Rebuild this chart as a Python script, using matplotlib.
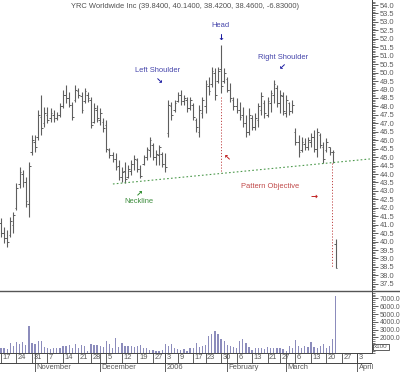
import numpy as np
import pandas as pd
import matplotlib
matplotlib.use("Agg")
import matplotlib.pyplot as plt
from matplotlib.ticker import MultipleLocator, FormatStrFormatter, FixedLocator, FuncFormatter

plt.rcParams["font.family"] = ["Liberation Sans", "DejaVu Sans"]

# trading calendar (holidays left out)
holidays = ["2005-11-24", "2005-12-26", "2006-01-02", "2006-01-16", "2006-02-20"]
days = pd.bdate_range("2005-10-17", "2006-04-07")
days = days[~days.isin(pd.to_datetime(holidays))]

# daily bars
high = [41.38, 40.88, 40.69, 41.47, 41.77, 43.45, 44.43, 44.24, 43.84, 44.73,
        46.31, 46.31, 47.79, 48.67, 47.98, 47.98, 47.89, 47.79, 47.69, 48.18,
        48.97, 49.27, 48.87, 48.28, 49.27, 49.07, 48.87, 49.07, 48.87, 48.57,
        48.18, 48.08, 47.89, 47.30, 47.20, 45.52, 45.32, 45.22, 44.83, 44.43,
        44.73, 44.53, 44.83, 45.12, 44.93, 44.53, 45.12, 45.62, 46.21, 45.82,
        45.42, 45.72, 45.32, 45.22, 48.38, 48.28, 48.38, 48.87, 48.97, 48.67,
        48.57, 48.57, 48.18, 47.30, 48.08, 48.57, 49.56, 49.76, 50.35, 50.25,
        50.35, 51.63, 50.25, 49.76, 49.37, 48.57, 48.48, 48.28, 47.98, 47.49,
        47.89, 47.49, 47.59, 48.18, 48.87, 48.40, 48.57, 48.97, 49.56, 49.27,
        48.97, 48.87, 48.67, 48.28, 48.38, 46.70, 46.31, 46.21, 46.11, 46.21,
        46.41, 46.60, 46.70, 46.41, 45.91, 46.11, 45.62, 45.42, 40.14]
low = [40.29, 39.90, 39.70, 40.29, 40.49, 41.87, 43.15, 43.25, 42.06, 41.47,
       45.12, 45.32, 46.01, 46.31, 46.80, 47.00, 47.10, 47.10, 47.20, 47.39,
       47.89, 48.18, 47.98, 47.20, 48.28, 48.48, 47.59, 48.18, 48.28, 46.70,
       47.00, 47.10, 46.90, 46.50, 45.32, 44.93, 44.73, 44.24, 43.64, 43.54,
       43.45, 43.74, 43.94, 44.24, 44.14, 43.74, 44.53, 44.83, 45.02, 44.83,
       44.53, 44.53, 44.43, 44.14, 46.21, 47.20, 47.69, 48.28, 48.08, 48.08,
       47.69, 47.79, 47.20, 46.50, 46.21, 47.30, 47.59, 48.67, 49.17, 48.38,
       49.37, 48.77, 49.37, 48.87, 48.28, 47.79, 47.59, 47.20, 46.80, 46.21,
       46.31, 46.60, 46.60, 46.80, 47.49, 47.30, 47.39, 47.69, 48.18, 47.98,
       47.59, 47.49, 47.39, 47.49, 47.59, 45.72, 45.02, 45.32, 45.42, 45.42,
       45.62, 45.32, 45.02, 45.52, 44.63, 45.32, 45.12, 44.63, 38.42]
opn = [41.1, 40.5, 40.2, 40.4, 41.0, 42.0, 43.4, 44.0, 43.5, 42.2,
       45.3, 45.9, 46.2, 47.4, 47.0, 47.5, 47.3, 47.5, 47.3, 47.5,
       48.0, 48.7, 48.5, 48.1, 48.4, 48.9, 48.6, 48.3, 48.7, 48.4,
       47.1, 47.8, 47.2, 47.1, 46.9, 45.4, 45.1, 44.9, 44.5, 43.8,
       44.2, 43.8, 44.2, 44.6, 44.8, 44.3, 44.6, 45.0, 45.4, 45.7,
       45.0, 45.1, 45.2, 44.6, 46.4, 48.0, 47.8, 48.3, 48.7, 48.3,
       48.4, 47.9, 48.1, 47.2, 46.5, 47.6, 48.0, 49.2, 49.3, 50.0,
       49.5, 50.2, 49.5, 49.6, 49.0, 48.4, 48.0, 47.8, 47.5, 47.0,
       46.5, 47.3, 46.8, 47.2, 47.8, 48.2, 47.5, 48.2, 48.7, 49.1,
       48.2, 48.6, 47.6, 48.2, 47.7, 46.5, 45.9, 45.4, 45.8, 45.6,
       45.9, 46.2, 45.5, 46.3, 45.6, 45.4, 45.6, 45.3, 39.84]
close = [40.5, 40.2, 40.0, 41.2, 41.6, 43.2, 44.1, 43.5, 42.4, 44.5,
         46.0, 45.6, 47.5, 46.7, 47.6, 47.2, 47.6, 47.3, 47.5, 48.0,
         48.7, 48.5, 48.1, 47.4, 49.0, 48.7, 47.8, 48.9, 48.5, 46.9,
         47.9, 47.3, 47.6, 46.7, 45.5, 45.1, 44.9, 44.4, 43.8, 44.1,
         43.7, 44.3, 44.6, 44.9, 44.3, 43.9, 45.0, 45.5, 46.0, 45.0,
         45.2, 45.6, 44.6, 44.4, 48.1, 47.5, 48.2, 48.7, 48.3, 48.5,
         47.9, 48.4, 47.4, 46.8, 47.8, 48.4, 49.3, 48.9, 50.1, 48.7,
         50.1, 49.2, 50.0, 49.0, 48.5, 48.0, 47.8, 47.4, 47.0, 46.5,
         47.5, 46.8, 47.3, 48.0, 48.6, 47.6, 48.3, 48.8, 49.3, 48.2,
         48.7, 47.7, 48.4, 47.7, 48.1, 45.9, 45.3, 45.9, 45.6, 46.0,
         46.2, 45.5, 46.5, 45.7, 44.9, 45.9, 45.3, 45.29, 38.46]
# volume in hundreds of shares
volume = [600, 700, 450, 1300, 850, 1400, 1150, 1400, 1000, 3500,
          1300, 1150, 1600, 1600, 800, 650, 550, 650, 650, 650,
          850, 850, 1000, 600, 1100, 700, 1000, 900, 200, 1100,
          1000, 1000, 900, 800, 1500, 1100, 600, 1900, 800, 1300,
          900, 850, 850, 800, 900, 1000, 700, 700, 400, 350,
          300, 300, 400, 1200, 900, 1100, 700, 550, 400, 500,
          300, 600, 700, 1300, 800, 900, 1000, 2200, 2500, 2800,
          2400, 1800, 1500, 1000, 900, 800, 600, 1500, 1800, 1300,
          800, 400, 600, 700, 700, 500, 800, 700, 700, 600,
          600, 500, 300, 900, 700, 1700, 900, 600, 900, 800,
          1400, 800, 700, 900, 1200, 700, 900, 1800, 7250]

month_names = ["November", "December", "2006", "February", "March", "April"]
month_starts = ["2005-11-01", "2005-12-01", "2006-01-03", "2006-02-01", "2006-03-01", "2006-04-03"]
vol_ticks = [1000, 2000, 3000, 4000, 5000, 6000, 7000]

# pattern lines (trading-day index, price)
neck_x = [36.1, 119.0]
neck_y = [43.41, 44.89]
head_idx = 71
target_idx = 106.8
target_low = 38.44

x = np.arange(len(high))
pos = pd.Series(np.arange(len(days)), index=days)
week_first = pos.groupby(days.to_period("W")).first()
week_days = [days[i].day for i in week_first.values]
month_pos = [pos[pd.Timestamp(d)] for d in month_starts]

def neck_at(i):
    return neck_y[0] + (i - neck_x[0]) * (neck_y[1] - neck_y[0]) / (neck_x[1] - neck_x[0])

W, H = 400, 372
fig = plt.figure(figsize=(4.0, 3.72), dpi=100)
xl = (-0.32, 119.68)
right = 372 / W

ax = fig.add_axes([0, 1 - 290 / H, right, 290 / H])
axv = fig.add_axes([0, 1 - 353 / H, right, 62 / H])
axd = fig.add_axes([0, 0, right, 19 / H])

grey = "#5e5e5e"
txtc = "#5a5a5a"
fs = 5.4
arrow_kw = dict(fontsize=6, fontweight="bold", family="DejaVu Sans", ha="center", va="center")

# price bars
ax.vlines(x, low, high, color=grey, lw=0.8)
ax.hlines(opn, x - 0.55, x, color=grey, lw=0.7)
ax.hlines(close, x, x + 0.55, color=grey, lw=0.7)

# neckline and projections
ax.plot(neck_x, neck_y, color="#4d9a4d", lw=0.8, ls=(0, (1.5, 2)))
ax.plot([head_idx, head_idx], [low[head_idx] - 0.2, neck_at(head_idx)],
        color="#c04848", lw=0.7, ls=(0, (1.2, 1.8)))
ax.plot([target_idx, target_idx], [neck_at(target_idx), target_low],
        color="#c04848", lw=0.7, ls=(0, (1.2, 1.8)))

blue = "#4444aa"
ax.text(70.8, 52.76, "Head", color=blue, fontsize=fs, ha="center", va="center")
ax.text(70.8, 52.05, "\u2193", color="#1a1aa0", **arrow_kw)
ax.text(50.6, 50.15, "Left Shoulder", color=blue, fontsize=fs, ha="center", va="center")
ax.text(51.1, 49.5, "\u2198", color="#1a1aa0", **arrow_kw)
ax.text(91.0, 50.9, "Right Shoulder", color=blue, fontsize=fs, ha="center", va="center")
ax.text(90.9, 50.35, "\u2199", color="#1a1aa0", **arrow_kw)
ax.text(44.6, 42.36, "Neckline", color="#3c8c3c", fontsize=fs, ha="center", va="center")
ax.text(44.8, 42.9, "\u2197", color="#2a8a2a", **arrow_kw)
ax.text(86.8, 43.25, "Pattern Objective", color="#c04848", fontsize=fs, ha="center", va="center")
ax.text(101.0, 42.7, "\u2192", color="#c02020", **arrow_kw)
ax.text(73.0, 45.02, "\u2196", color="#c02020", **arrow_kw)

ax.set_xlim(xl)
ax.set_ylim(37.136, 54.296)
ax.yaxis.set_major_locator(MultipleLocator(0.5))
ax.yaxis.set_minor_locator(MultipleLocator(0.1))
ax.yaxis.set_major_formatter(FormatStrFormatter("%.1f"))

# volume
axv.bar(x, volume, width=0.4, color="#8c8cbc", linewidth=0)
axv.set_xlim(xl)
axv.set_ylim(0, 7950)
axv.yaxis.set_major_locator(FixedLocator(vol_ticks))
axv.yaxis.set_minor_locator(MultipleLocator(250))
# the 1000 label sits under the x100 box
axv.yaxis.set_major_formatter(FuncFormatter(lambda v, p: "" if v < 1500 else "%.1f" % v))

for a in (ax, axv):
    a.set_xticks([])
    a.yaxis.tick_right()
    for s in ("left", "top", "bottom"):
        a.spines[s].set_visible(False)
    a.spines["right"].set_color("#444444")
    a.spines["right"].set_linewidth(0.7)
    a.tick_params(axis="y", which="major", length=4, width=0.6, color="#444444",
                  labelsize=fs, labelcolor=txtc, pad=1.5)
    a.tick_params(axis="y", which="minor", length=2, width=0.5, color="#444444")
    a.patch.set_alpha(0)
axv.tick_params(axis="y", which="major", labelsize=4.9)

# date strip
axd.set_xlim(xl)
axd.set_ylim(0, 1)
axd.axis("off")
lc = "#444444"
axd.axhline(1, color=lc, lw=0.7)
axd.axhline(0.5, color=lc, lw=0.7)
axd.vlines(week_first.values, 0.5, 1, color=lc, lw=0.6)
axd.vlines(month_pos, 0, 1, color=lc, lw=0.6)
for p, d in zip(week_first.values, week_days):
    axd.text(p + 0.5, 0.74, str(d), fontsize=fs, color=txtc, ha="left", va="center")
for p, m in zip(month_pos, month_names):
    axd.text(p + 0.5, 0.22, m, fontsize=fs, color=txtc, ha="left", va="center")

# separator between panels
fig.add_artist(plt.Line2D([0, 1], [1 - 290.5 / H] * 2, color="#555555", lw=1.0))

fig.text(185 / W, 1 - 7 / H,
         "YRC Worldwide Inc (39.8400, 40.1400, 38.4200, 38.4600, -6.83000)",
         fontsize=fs, color="#505050", ha="center", va="center")
fig.text(381 / W, 1 - 347 / H, "x100", fontsize=4.5, color=txtc, ha="center", va="center",
         bbox=dict(boxstyle="square,pad=0.15", fc="white", ec="#444444", lw=0.6))

fig.savefig("out.png", dpi=100)
